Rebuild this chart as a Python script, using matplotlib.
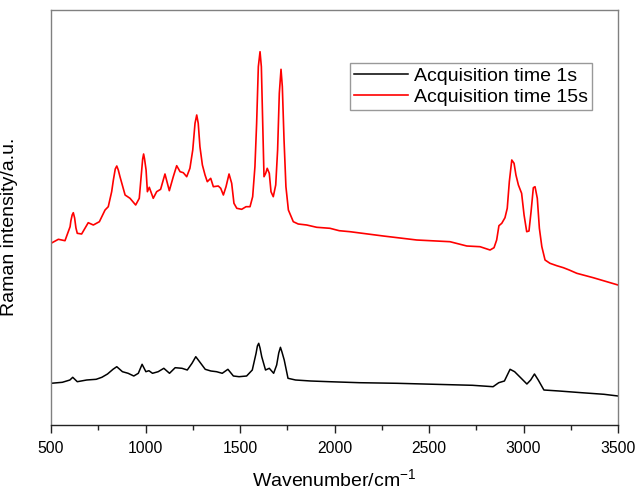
import matplotlib
matplotlib.use("Agg")
import matplotlib.pyplot as plt
from matplotlib.ticker import MultipleLocator

plt.rcParams['font.family'] = ['Liberation Sans', 'DejaVu Sans']
plt.rcParams['mathtext.default'] = 'regular'

# Wavenumber (cm^-1) and intensity (a.u.)
x_15s = [500, 539, 574, 601, 605, 612, 618, 625, 632, 639, 662, 697, 724, 756, 786,
         803, 821, 830, 840, 848, 856, 865, 892, 918, 948, 967, 980, 985, 990, 995,
         1003, 1010, 1020, 1041, 1059, 1080, 1103, 1126, 1147, 1165,
         1183, 1200, 1218, 1235, 1250, 1262, 1271, 1279, 1288, 1301, 1315, 1327,
         1345, 1359, 1385, 1398, 1412, 1426, 1442, 1456, 1468, 1483, 1509, 1532,
         1553, 1567, 1579, 1588, 1597, 1606, 1613, 1620, 1627, 1636, 1644, 1655,
         1664, 1676, 1689, 1699, 1708, 1717, 1724, 1733, 1743, 1756, 1782, 1808,
         1853, 1906, 1976, 2025, 2082, 2258, 2435, 2611, 2700,
         2770, 2796, 2823, 2844, 2858, 2870, 2885, 2902, 2914, 2925, 2938, 2950,
         2960, 2973, 2990, 3003, 3017, 3029, 3040, 3052, 3061, 3073, 3084, 3097,
         3114, 3140, 3176, 3211, 3242, 3282, 3369, 3500]
y_15s = [181.7, 185.7, 184.3, 198.3, 204.0, 210.0, 212.3, 207.0, 197.0, 191.7, 191.0,
         202.3, 200.0, 203.3, 215.0, 218.3, 233.3, 245.0, 256.0, 259.0, 255.0, 248.3,
         230.0, 226.7, 220.0, 226.7, 255.0, 266.0, 271.0, 266.0, 255.0, 233.3, 237.7,
         226.7, 233.3, 235.7, 251.0, 234.3, 248.3, 259.3,
         253.3, 252.3, 248.3, 256.7, 275.0, 301.7, 310.0, 301.7, 278.3, 260.0, 250.0,
         243.3, 246.7, 238.3, 239.0, 236.7, 230.0, 238.3, 251.0, 241.7, 221.7, 216.7,
         215.7, 218.3, 218.3, 228.3, 258.3, 301.7, 358.3, 373.3, 358.3, 301.7, 248.3,
         251.7, 256.7, 251.7, 233.3, 228.3, 240.0, 275.0, 331.7, 355.7, 338.3, 285.0,
         238.3, 215.0, 203.3, 201.0,
         200.0, 197.7, 196.7, 194.3, 193.3, 189.0, 185.0, 183.3, 179.0,
         178.3, 176.7, 175.0, 177.3, 185.0, 199.3, 201.7, 207.3, 216.7, 243.3, 265.0,
         261.7, 250.0, 240.0, 231.7, 210.0, 193.3, 194.0, 213.3, 237.3, 238.3, 226.7,
         196.7, 178.3, 165.0, 161.7, 159.3, 157.3, 155.0, 151.7, 147.3, 140.0]

x_1s = [500, 560, 600, 615, 639, 689, 739, 769, 799, 828, 848, 878, 908, 938, 962,
        982, 1002, 1018, 1037, 1067, 1097, 1127, 1157, 1193, 1221, 1246, 1266, 1286,
        1316, 1346, 1376, 1406, 1436, 1465, 1495, 1535, 1565, 1585, 1592, 1599, 1606,
        1615, 1635, 1655, 1678, 1694, 1705, 1714, 1722, 1734, 1754, 1794, 1874, 1973,
        2132, 2331, 2530, 2730, 2839, 2869, 2899, 2929, 2953, 2988, 3018, 3038, 3058,
        3078, 3108, 3188, 3307, 3426, 3500]
y_1s = [41.7, 42.7, 45.0, 47.7, 43.3, 45.0, 45.7, 47.7, 51.0, 55.7, 58.3, 53.3, 51.7,
        49.0, 51.7, 60.7, 53.3, 54.3, 51.7, 53.3, 56.7, 51.7, 57.3, 56.7, 55.0, 61.7,
        68.3, 63.3, 55.7, 54.0, 53.3, 51.7, 55.7, 49.0, 48.3, 49.0, 55.0, 71.7, 79.0,
        81.7, 77.0, 68.3, 55.0, 56.7, 51.7, 60.0, 72.0, 77.7, 73.0, 65.0, 46.7, 45.0,
        44.0, 43.3, 42.3, 41.7, 40.7, 39.7, 38.3, 42.3, 44.0, 55.7, 53.3, 46.7, 41.0,
        45.0, 51.0, 45.0, 35.0, 34.0, 32.3, 30.7, 29.0]

labels = ['Acquisition time 1s', 'Acquisition time 15s']
x_ticks = [500, 1000, 1500, 2000, 2500, 3000, 3500]

fig = plt.figure(figsize=(6.39, 4.94), dpi=100)
ax = fig.add_axes([51/639, 1-425/494, 567/639, 415/494])

ax.plot(x_1s, y_1s, color='black', lw=1.1, label=labels[0])
ax.plot(x_15s, y_15s, color='#ff0000', lw=1.2, label=labels[1])

ax.set_xlim(500, 3500)
ax.set_ylim(0, 415)
ax.set_xticks(x_ticks)
ax.set_xticklabels([str(t) for t in x_ticks])
ax.xaxis.set_minor_locator(MultipleLocator(250))
ax.set_yticks([])
ax.tick_params(axis='x', which='major', direction='out', length=6, width=1,
               pad=5.5, labelsize=11.3, color='#222222')
ax.tick_params(axis='x', which='minor', direction='out', length=3.5, width=1,
               color='#222222')

for s in ['left', 'top', 'right']:
    ax.spines[s].set_color('#808080')
    ax.spines[s].set_linewidth(1.0)
ax.spines['bottom'].set_color('#222222')
ax.spines['bottom'].set_linewidth(1.0)

ax.set_xlabel('Wavenumber/cm$^{-1}$', fontsize=14, labelpad=9)
ax.set_ylabel('Raman intensity/a.u.', fontsize=14)
ax.yaxis.set_label_coords(-0.058, 0.477)

leg = ax.legend(loc='upper right', bbox_to_anchor=(0.954, 0.872), fontsize=14,
                frameon=True, fancybox=False, edgecolor='#808080',
                handlelength=2.8, handletextpad=0.3, borderpad=0.2,
                labelspacing=0.2, borderaxespad=0)
leg.get_frame().set_linewidth(1.0)

fig.savefig('out.png', dpi=100)
